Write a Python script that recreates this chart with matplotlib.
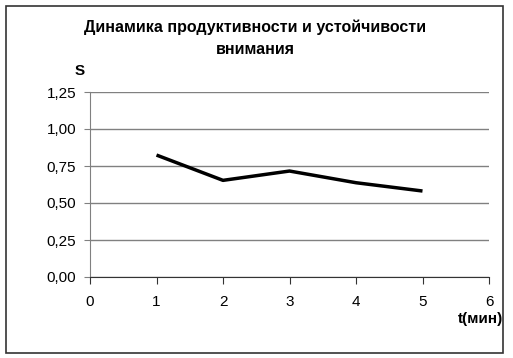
import matplotlib
matplotlib.use("Agg")
import matplotlib.pyplot as plt
from matplotlib.patches import Rectangle

plt.rcParams['font.family'] = ['Liberation Sans', 'DejaVu Sans']

# data
t = [1, 2, 3, 4, 5]
s = [0.824, 0.653, 0.716, 0.637, 0.581]
x_ticks = [0, 1, 2, 3, 4, 5, 6]
y_ticks = [0.0, 0.25, 0.5, 0.75, 1.0, 1.25]
y_labels = ['0,00', '0,25', '0,50', '0,75', '1,00', '1,25']

W, H = 513, 358
fig = plt.figure(figsize=(W / 100, H / 100), dpi=100)
fig.patches.append(Rectangle((5.5 / W, 5 / H), 497.5 / W, 347.5 / H,
                             transform=fig.transFigure, fill=False,
                             edgecolor='#333333', linewidth=1.2))

ax = fig.add_axes([90 / W, 1 - 277 / H, 399 / W, 185 / H])
ax.plot(t, s, color='black', linewidth=2.5, solid_capstyle='butt')

ax.set_xlim(0, 6)
ax.set_ylim(0, 1.25)
ax.set_xticks(x_ticks)
ax.set_xticklabels([str(v) for v in x_ticks], fontsize=11)
ax.set_yticks(y_ticks)
ax.set_yticklabels(y_labels, fontsize=11)
ax.grid(axis='y', color='#808080', linewidth=1)
ax.set_axisbelow(True)

for side in ['top', 'right']:
    ax.spines[side].set_visible(False)
ax.spines['left'].set_color('#808080')
ax.spines['bottom'].set_color('#333333')
ax.tick_params(axis='x', direction='out', length=5, color='#333333', pad=8)
ax.tick_params(axis='y', direction='out', length=4, color='#808080', pad=6)

fig.text(255 / W, 1 - 27 / H, 'Динамика продуктивности и устойчивости',
         ha='center', va='center', fontsize=11.5, fontweight='bold')
fig.text(255 / W, 1 - 49 / H, 'внимания',
         ha='center', va='center', fontsize=11.5, fontweight='bold')
fig.text(80 / W, 1 - 71 / H, 'S', ha='center', va='center',
         fontsize=11, fontweight='bold')
fig.text(503 / W, 1 - 319 / H, 't(мин)', ha='right', va='center',
         fontsize=11, fontweight='bold')

fig.savefig('out.png', dpi=100)
